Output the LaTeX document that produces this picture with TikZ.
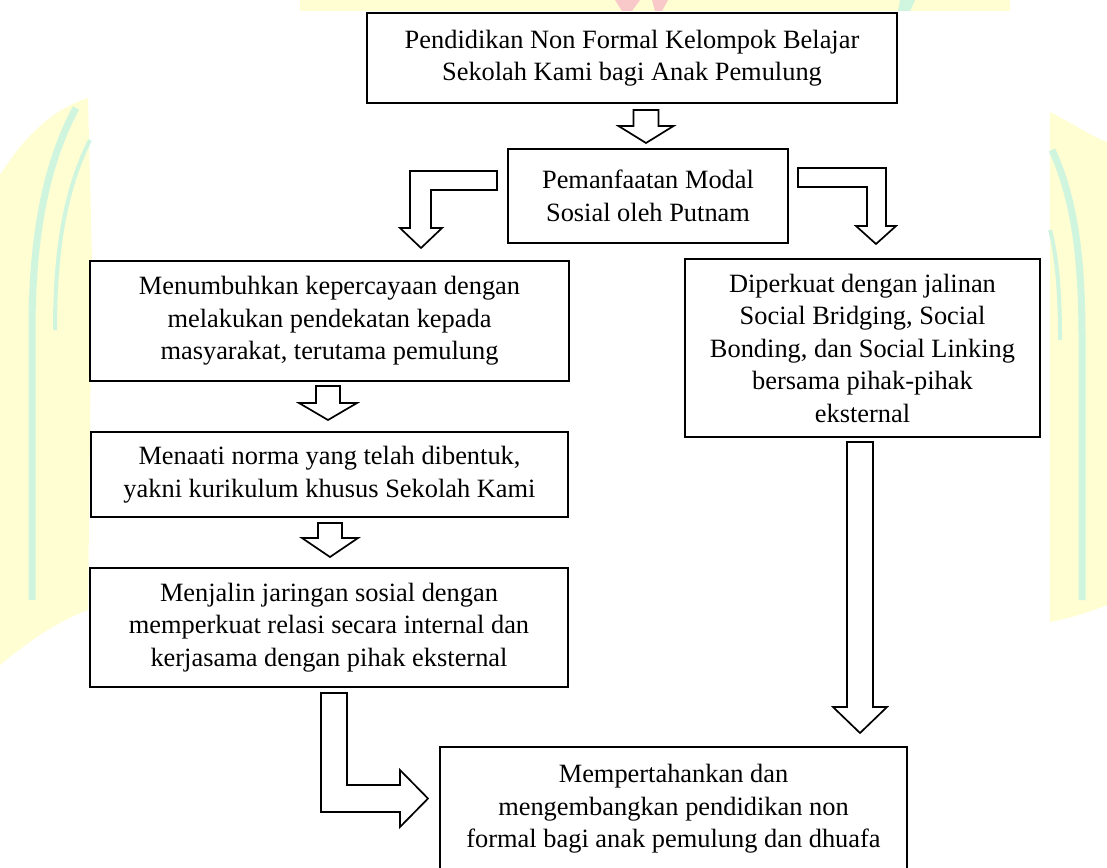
\documentclass[tikz,border=0pt]{standalone}
\usepackage{fontspec}
\setmainfont{Liberation Serif}
\definecolor{wmyellow}{HTML}{FFFDD2}
\definecolor{wmgreen}{HTML}{CFF5DF}
\definecolor{wmred}{HTML}{F9C9C9}
\newcommand{\bdarrow}[6]{% cx, top, base, tip, band half, head half
  \draw[barrow] (#1-#5,#2) -- (#1+#5,#2) -- (#1+#5,#3) -- (#1+#6,#3) -- (#1,#4) -- (#1-#6,#3) -- (#1-#5,#3) -- cycle;}
\begin{document}
\begin{tikzpicture}[x=1pt,y=-1pt,
  box/.style={draw=black, line width=2.8pt, fill=white, align=center, inner sep=0pt,
    font=\fontsize{26.4}{32.5}\selectfont},
  barrow/.style={draw=black, line width=1.7pt, fill=white, line join=miter}]
\useasboundingbox (0,0) rectangle (1107,867);
\clip (0,0) rectangle (1107,867);
% watermark (faint background logo)
\fill[wmyellow] (0,175) .. controls (25,135) and (55,108) .. (88,98) -- (92,260) -- (88,610)
  .. controls (60,620) and (30,640) .. (0,665) -- cycle;
\draw[wmgreen, line width=7pt] (76,108) .. controls (48,160) and (32,230) .. (32,330) -- (32,600);
\draw[wmgreen, line width=4pt] (90,140) .. controls (65,190) and (55,250) .. (55,330);
\fill[wmyellow] (1050,112) .. controls (1075,125) and (1095,138) .. (1107,142) -- (1107,605)
  .. controls (1090,612) and (1070,618) .. (1050,622) -- cycle;
\draw[wmgreen, line width=7pt] (1052,150) .. controls (1075,200) and (1082,260) .. (1082,340) -- (1082,600);
\draw[wmgreen, line width=4pt] (1050,230) .. controls (1058,260) and (1060,300) .. (1060,340);
\fill[wmyellow] (300,0) rectangle (1010,11);
\fill[wmred] (615,0) -- (640,0) -- (632,11) -- (622,11) -- cycle;
\fill[wmred] (652,0) -- (668,0) -- (662,11) -- (655,11) -- cycle;
\fill[wmgreen] (900,0) -- (915,0) -- (910,11) -- (898,11) -- cycle;
% boxes
\node[box, minimum width=530, minimum height=90] (b1) at (632,58)
  {Pendidikan Non Formal Kelompok Belajar\\Sekolah Kami bagi Anak Pemulung};
\node[box, minimum width=280, minimum height=94] (b2) at (648,196)
  {Pemanfaatan Modal\\Sosial oleh Putnam};
\node[box, minimum width=479, minimum height=120] (b3) at (329.5,321)
  {Menumbuhkan kepercayaan dengan\\melakukan pendekatan kepada\\masyarakat, terutama pemulung};
\node[box, minimum width=477, minimum height=85] (b4) at (329.5,474.5)
  {Menaati norma yang telah dibentuk,\\yakni kurikulum khusus Sekolah Kami};
\node[box, minimum width=478, minimum height=119] (b5) at (329,627.5)
  {Menjalin jaringan sosial dengan\\memperkuat relasi secara internal dan\\kerjasama dengan pihak eksternal};
\node[box, minimum width=355, minimum height=178] (b6) at (862.5,348)
  {Diperkuat dengan jalinan\\Social Bridging, Social\\Bonding, dan Social Linking\\bersama pihak-pihak\\eksternal};
\node[box, minimum width=467, minimum height=124] (b7) at (673.5,809)
  {Mempertahankan dan\\mengembangkan pendidikan non\\formal bagi anak pemulung dan dhuafa};
% block arrows
\bdarrow{646}{110}{126}{143}{12.5}{27.5}
\bdarrow{328}{386}{403}{420}{12}{29}
\bdarrow{330}{523}{538}{557}{12}{28}
\bdarrow{860}{442}{707}{733}{13}{27}
% left elbow (b2 -> b3)
\draw[barrow] (497,171) -- (497,190) -- (431,190) -- (431,228) -- (442,228) -- (421,248)
  -- (400,228) -- (410,228) -- (410,171) -- cycle;
% right elbow (b2 -> b6)
\draw[barrow] (798,168) -- (886,168) -- (886,226) -- (896,226) -- (876,244)
  -- (856,226) -- (867,226) -- (867,187) -- (798,187) -- cycle;
% bottom elbow (b5 -> b7)
\draw[barrow] (321,693) -- (347,693) -- (347,785) -- (400,785) -- (400,770) -- (428,798.5)
  -- (400,827) -- (400,812) -- (321,812) -- cycle;
\end{tikzpicture}
\end{document}
